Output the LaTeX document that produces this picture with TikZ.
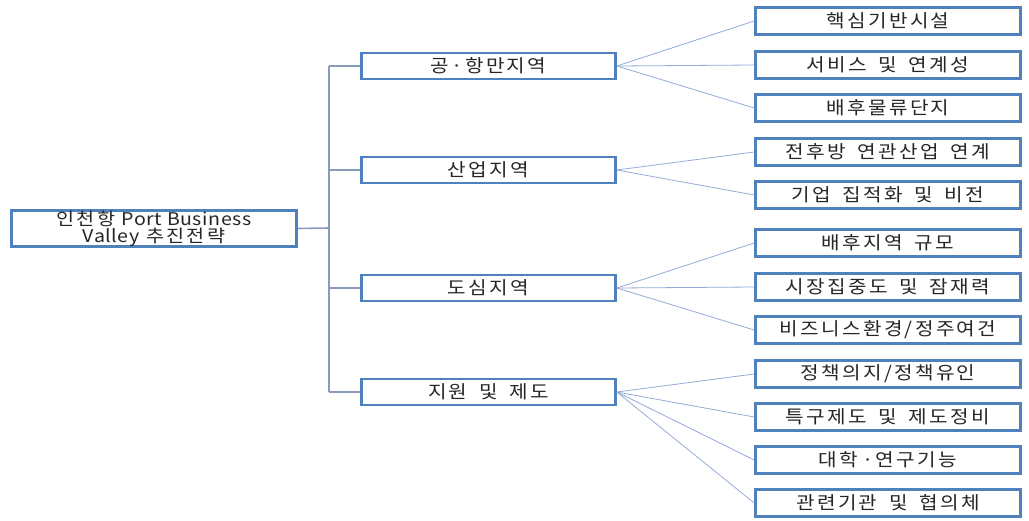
\documentclass[tikz,border=0pt]{standalone}
\usepackage{fontspec}
\newfontfamily\krfont{Noto Sans CJK KR}[FakeStretch=1.12,LetterSpace=13]
\newfontfamily\enfont{Noto Sans CJK KR}[FakeStretch=1.12,LetterSpace=3]
\usepackage{tikz}
\definecolor{boxblue}{HTML}{4F81BD}
\definecolor{linkblue}{HTML}{93ABD6}
\definecolor{trunkblue}{HTML}{8A9CBC}
\definecolor{textgray}{HTML}{262626}

\begin{document}
\begin{tikzpicture}[x=1pt, y=-1pt,
  box/.style={draw=boxblue, line width=2.6pt, fill=white, inner sep=0pt, text=textgray,
    font=\krfont\fontsize{18}{18}\selectfont, align=center},
  wide/.style={execute at begin node={\spaceskip=0.65em}},
  rootbox/.style={box, font=\krfont\fontsize{17.5}{17}\selectfont, minimum width=285, minimum height=35},
  areabox/.style={box, wide, minimum width=254, minimum height=26},
  itembox/.style={box, wide, minimum width=265, minimum height=27},
  link/.style={draw=linkblue, line width=0.8pt},
  trunk/.style={draw=trunkblue, line width=1.6pt}]
  \useasboundingbox (0,0) rectangle (1029,520);

  % Root
  \node[rootbox] (root) at (154,228.5) {인천항 {\enfont Port Business}\\{\enfont Valley} 추진전략};

  % Area nodes
  \node[areabox] (a1) at (488.5,66) {공·항만지역};
  \node[areabox] (a2) at (488.5,170) {산업지역};
  \node[areabox] (a3) at (488.5,288) {도심지역};
  \node[areabox] (a4) at (488.5,392) {지원 및 제도};

  % Item nodes
  \node[itembox] (b1) at (888,21) {핵심기반시설};
  \node[itembox] (b2) at (888,65) {서비스 및 연계성};
  \node[itembox] (b3) at (888,108) {배후물류단지};
  \node[itembox] (c1) at (888,152) {전후방 연관산업 연계};
  \node[itembox] (c2) at (888,195) {기업 집적화 및 비전};
  \node[itembox] (d1) at (888,243) {배후지역 규모};
  \node[itembox] (d2) at (888,287) {시장집중도 및 잠재력};
  \node[itembox] (d3) at (888,330) {비즈니스환경/정주여건};
  \node[itembox] (e1) at (888,374) {정책의지/정책유인};
  \node[itembox] (e2) at (888,417) {특구제도 및 제도정비};
  \node[itembox] (e3) at (888,460) {대학\hspace{4pt}·연구기능};
  \node[itembox] (e4) at (888,503) {관련기관 및 협의체};

  % Trunk
  \coordinate (t0) at (329,228);
  \coordinate (t1) at (329,66);
  \coordinate (t4) at (329,392);
  \draw[trunk] (t1) -- (t4);
  \draw[trunk] (root.east) -- (t0);
  \draw[trunk] (t1) -- (a1.west);
  \draw[trunk] (329,170) -- (a2.west);
  \draw[trunk] (329,288) -- (a3.west);
  \draw[trunk] (t4) -- (a4.west);

  % Fan-out links
  \draw[link] (a1.east) -- (b1.west);
  \draw[link] (a1.east) -- (b2.west);
  \draw[link] (a1.east) -- (b3.west);
  \draw[link] (a2.east) -- (c1.west);
  \draw[link] (a2.east) -- (c2.west);
  \draw[link] (a3.east) -- (d1.west);
  \draw[link] (a3.east) -- (d2.west);
  \draw[link] (a3.east) -- (d3.west);
  \draw[link] (a4.east) -- (e1.west);
  \draw[link] (a4.east) -- (e2.west);
  \draw[link] (a4.east) -- (e3.west);
  \draw[link] (a4.east) -- (e4.west);
\end{tikzpicture}
\end{document}
